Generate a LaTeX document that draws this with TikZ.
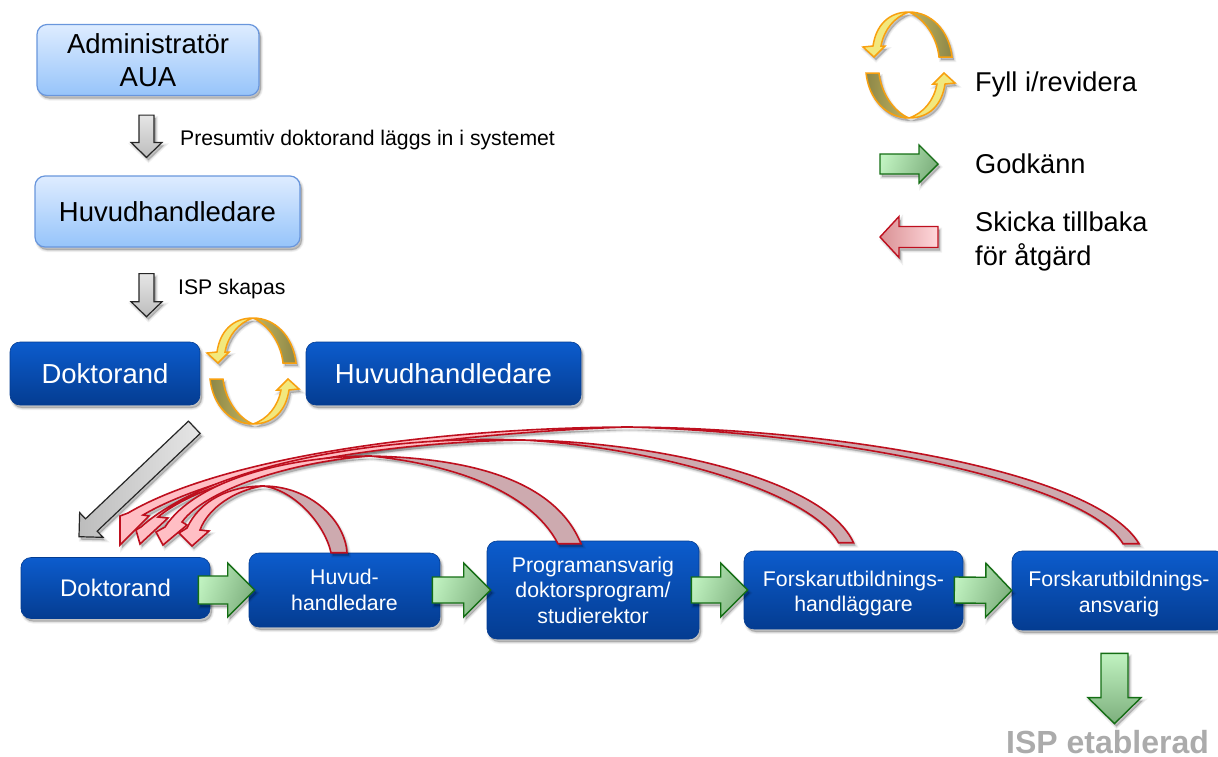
\documentclass[tikz,border=0pt]{standalone}
\usepackage{fontspec}
\setmainfont{Liberation Sans}
\usetikzlibrary{calc,shadows}

\definecolor{lightbluetop}{RGB}{222,236,255}
\definecolor{lightbluebot}{RGB}{150,196,250}
\definecolor{lightblueline}{RGB}{105,150,220}
\definecolor{darkbluetop}{RGB}{12,92,205}
\definecolor{darkbluebot}{RGB}{4,60,145}
\definecolor{greenlight}{RGB}{192,242,192}
\definecolor{greendark}{RGB}{125,175,125}
\definecolor{greenline}{RGB}{20,110,20}
\definecolor{redlight}{RGB}{255,190,196}
\definecolor{reddark}{RGB}{205,170,175}
\definecolor{redline}{RGB}{190,15,30}
\definecolor{yellowlight}{RGB}{242,232,125}
\definecolor{yellowmid}{RGB}{195,180,95}
\definecolor{yellowdark}{RGB}{140,135,72}
\definecolor{yellowline}{RGB}{248,160,15}

\tikzset{
  softshadow/.style={
    general shadow={shadow xshift=2pt,shadow yshift=-3pt,fill=black,draw=black,line width=4pt,opacity=.06},
    general shadow={shadow xshift=2pt,shadow yshift=-3pt,fill=black,draw=black,line width=2pt,opacity=.08},
    general shadow={shadow xshift=2pt,shadow yshift=-3pt,fill=black,opacity=.1}},
  lightbox/.style={draw=lightblueline,line width=1.2pt,rounded corners=10pt,top color=lightbluetop,bottom color=lightbluebot,
    softshadow,align=center,inner sep=0pt,font=\fontsize{27.5}{33.5}\selectfont},
  darkbox/.style={draw=darkbluebot,line width=.6pt,rounded corners=10pt,top color=darkbluetop,bottom color=darkbluebot,
    softshadow,align=center,inner sep=0pt,text=white,font=\fontsize{21.3}{25.5}\selectfont},
  biglabel/.style={font=\fontsize{27.2}{34}\selectfont,align=left,inner sep=0pt,anchor=west},
  smalllabel/.style={font=\fontsize{21.2}{25}\selectfont,inner sep=0pt,anchor=west},
  grayarrow/.style={draw=black!85,line width=1.2pt,top color=black!10,bottom color=black!26,softshadow},
  grayslant/.style={draw=black!85,line width=1.2pt,left color=black!26,right color=black!10,softshadow},
  greenarrow/.style={draw=greenline,line width=1.4pt,left color=greenlight,right color=greendark,shading angle=70,softshadow},
  greendown/.style={draw=greenline,line width=1.4pt,top color=greenlight,bottom color=greendark,softshadow},
  redarrow/.style={draw=redline,line width=1.4pt,left color=redlight!80!red!70!gray,right color=redlight!60!white,softshadow},
  backband/.style={draw=redline,line width=1.6pt,fill=reddark,softshadow},
  backhead/.style={draw=redline,line width=1.6pt,fill=redlight,softshadow},
  cycleband/.style={draw=yellowline,line width=1.5pt,softshadow},
  cyclehead/.style={draw=yellowline,line width=1.5pt,fill=yellowlight,softshadow},
  revisecycle/.pic={
    \draw[cycleband,left color=yellowmid,right color=yellowdark] (0,-53) .. controls (22,-53) and (40,-35) .. (43,-8) -- (30,-8) .. controls (28,-28) and (15,-47) .. (0,-53);
    \draw[cyclehead] (0,-53) .. controls (-20,-53) and (-33,-40) .. (-36,-19) -- (-46,-18) -- (-35,-8) -- (-24,-19) -- (-28,-19) .. controls (-25,-35) and (-15,-48) .. (0,-53);
    \draw[cycleband,left color=yellowdark,right color=yellowmid] (0,53) .. controls (-22,53) and (-40,35) .. (-43,8) -- (-30,8) .. controls (-28,28) and (-15,47) .. (0,53);
    \draw[cyclehead] (0,53) .. controls (20,53) and (33,40) .. (36,19) -- (46,18) -- (35,8) -- (24,19) -- (28,19) .. controls (25,35) and (15,48) .. (0,53);
  }
}

% style, start, tip, half shaft, half head, head length
\newcommand{\blockarrow}[6][]{
  \coordinate (ba) at #2;
  \coordinate (bb) at #3;
  \coordinate (bn) at ($(bb)!#6pt!(ba)$);
  \draw[#1] ($(ba)!#4pt!90:(bb)$) -- ($(bn)!#4pt!90:(bb)$) -- ($(bn)!#5pt!90:(bb)$) -- (bb)
    -- ($(bn)!#5pt!-90:(bb)$) -- ($(bn)!#4pt!-90:(bb)$) -- ($(ba)!#4pt!-90:(bb)$) -- cycle;
}

\begin{document}
\begin{tikzpicture}[x=1pt,y=-1pt]
\useasboundingbox (0,0) rectangle (1218,756);

\node[lightbox,minimum width=222pt,minimum height=71pt] (admin) at (148,60) {Administratör\\AUA};
\node[lightbox,minimum width=265pt,minimum height=71pt] (huvuda) at (167.5,211.5) {Huvudhandledare};

\node[darkbox,minimum width=190pt,minimum height=63pt,font=\fontsize{27.5}{33}\selectfont] (dokc) at (105,373.5) {Doktorand};
\node[darkbox,minimum width=275pt,minimum height=63pt,font=\fontsize{27.5}{33}\selectfont] (huvudb) at (443.5,373.5) {Huvudhandledare};

\node[darkbox,minimum width=189pt,minimum height=61pt,font=\fontsize{24}{29}\selectfont] (dokd) at (115.5,588) {Doktorand};
\node[darkbox,minimum width=191pt,minimum height=74pt] (huvude) at (344.5,590) {Huvud-\\handledare};
\node[darkbox,minimum width=212pt,minimum height=98pt] (prog) at (593,590) {Programansvarig\\doktorsprogram/\\studierektor};
\node[darkbox,minimum width=219pt,minimum height=78pt] (forska) at (853.5,590) {\rule{0pt}{22pt}Forskarutbildnings-\\handläggare};
\node[darkbox,minimum width=214pt,minimum height=79pt] (forskb) at (1119,590.5) {\rule{0pt}{22pt}Forskarutbildnings-\\ansvarig};

\node[smalllabel] (presum) at (180,140) {Presumtiv doktorand läggs in i systemet};
\node[smalllabel] (skapas) at (178,289) {ISP skapas};
\node[inner sep=0pt,anchor=base,text=black!33,font=\fontsize{32}{38}\selectfont\bfseries] (etablerad) at (1107.5,753) {ISP etablerad};

\node[biglabel] (fyll) at (975,84) {Fyll i/revidera};
\node[biglabel] (godkann) at (975,164) {Godkänn};
\node[biglabel] (skicka) at (975,241) {Skicka tillbaka\\för åtgärd};

\blockarrow[grayarrow]{([xshift=-1.5pt,yshift=-19pt]admin.south)}{([xshift=-21pt,yshift=18pt]huvuda.north)}{7.5}{15.5}{15}
\blockarrow[grayarrow]{([xshift=-21pt,yshift=-26pt]huvuda.south)}{([xshift=41.5pt,yshift=25pt]dokc.north)}{7.5}{15.5}{15}
\blockarrow[grayslant]{([xshift=-6pt,yshift=-22pt]dokc.south east)}{([xshift=-36.5pt,yshift=20.5pt]dokd.north)}{8.5}{17}{17}

\blockarrow[greenarrow]{([xshift=-12pt,yshift=-2pt]dokd.east)}{([xshift=6pt]huvude.west)}{14}{27}{27}
\blockarrow[greenarrow]{([xshift=-8pt]huvude.east)}{([xshift=4pt]prog.west)}{13}{27}{27}
\blockarrow[greenarrow]{([xshift=-8pt]prog.east)}{([xshift=4pt]forska.west)}{13}{27}{27}
\blockarrow[greenarrow]{([xshift=-9pt]forska.east)}{(forskb.west)}{13}{27}{26}
\blockarrow[greendown]{([xshift=-4.5pt,yshift=-23pt]forskb.south)}{([xshift=7pt,yshift=6pt]etablerad.north)}{13.5}{26.5}{26}

\pic at ($(dokc.east)!.5!(huvudb.west)+(0,-2.5)$) {revisecycle};
\pic (legendcycle) at ([xshift=-66pt,yshift=19pt]fyll.west) {revisecycle};

\blockarrow[greenarrow]{([xshift=-95pt]godkann.west)}{([xshift=-37pt]godkann.west)}{10}{19}{19}
\coordinate (redend) at ([xshift=-37pt,yshift=4pt]skicka.west);
\coordinate (redtip) at ([xshift=-95pt,yshift=4pt]skicka.west);
\blockarrow[redarrow]{(redend)}{(redtip)}{10.5}{20.5}{19}

% back to Doktorand
\draw[backband] (627,427) .. controls (830,428) and (1095,470) .. ([xshift=20pt,yshift=7pt]forskb.north) -- ([xshift=4pt,yshift=7pt]forskb.north) .. controls (1085,480) and (830,432) .. (627,427);
\draw[backhead] (627,427) .. controls (440,428) and (225,456) .. (128,513) -- (120,516) -- (120,545) -- (149,516) -- (143,515) .. controls (230,464) and (430,434) .. (627,427);

\draw[backband] (523,440) .. controls (660,442) and (825,480) .. ([yshift=8pt]forska.north) -- ([xshift=-15pt,yshift=8pt]forska.north) .. controls (810,490) and (650,447) .. (523,440);
\draw[backhead] (523,440) .. controls (380,435) and (210,465) .. (141,527) -- (136,530) -- (140,544) -- (168,518) -- (158,517) .. controls (215,470) and (380,442) .. (523,440);

\draw[backband] (370,456) .. controls (470,458) and (555,480) .. ([xshift=-12pt,yshift=-3pt]prog.north) -- ([xshift=-35pt,yshift=-3pt]prog.north) .. controls (530,490) and (450,464) .. (370,456);
\draw[backhead] (370,456) .. controls (290,456) and (195,480) .. (165,527) -- (156,532) -- (163,545) -- (187,525) -- (182,522) .. controls (205,490) and (290,462) .. (370,456);

\draw[backband] (263,486) .. controls (310,486) and (345,520) .. ([xshift=2.5pt]huvude.north) -- ([xshift=-13.5pt]huvude.north) .. controls (325,525) and (295,490) .. (263,486);
\draw[backhead] (263,486) .. controls (230,486) and (200,500) .. (187,528) -- (179,533) -- (192,546) -- (209,531) -- (200,530) .. controls (208,508) and (235,490) .. (263,486);

\end{tikzpicture}
\end{document}
